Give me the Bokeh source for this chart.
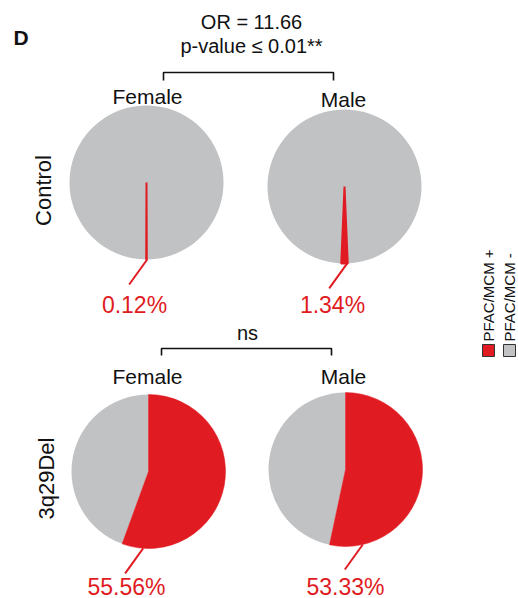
import math
from bokeh.plotting import figure
from bokeh.models import Range1d
from bokeh.core.properties import value
from bokeh.embed import file_html
from bokeh.resources import INLINE

# ---- data ----
groups = ["Control", "Control", "3q29Del", "3q29Del"]
sexes = ["Female", "Male", "Female", "Male"]
pos_pct = [0.12, 1.34, 55.56, 53.33]
pct_labels = ["0.12%", "1.34%", "55.56%", "53.33%"]
row_labels = ["Control", "3q29Del"]
stat_top = ["OR = 11.66", "p-value \u2264 0.01**"]
stat_bottom = ["ns"]
legend_labels = ["PFAC/MCM +", "PFAC/MCM -"]
panel_letter = "D"

# ---- style / layout ----
RED = "#E11B22"
GREY = "#C1C2C3"
INK = "#111111"
FONT = value("Liberation Sans")
W, H = 518, 598


def Y(py):
    return H - py


centers = [(146, 182), (344, 186), (148, 471), (345, 469)]
R = 77
leader_deg = [0.5, 2, -4, 13]
label_pos = [(134, 304), (332, 304), (126, 586), (345, 586)]
sex_pos = [(147, 96), (343, 99), (147, 376), (343, 376)]

p = figure(width=W, height=H, x_range=Range1d(0, W), y_range=Range1d(0, H),
           output_backend="svg", toolbar_location=None, min_border=0)
p.axis.visible = False
p.grid.visible = False
p.outline_line_color = None
p.background_fill_color = "white"
p.border_fill_color = "white"

for i, (g, s, pct) in enumerate(zip(groups, sexes, pos_pct)):
    cx, cy = centers[i]
    f = pct / 100.0
    if g == "Control":
        rs = -math.pi / 2 - f * math.pi
        re = -math.pi / 2 + f * math.pi
    else:
        rs = math.pi / 2 - f * 2 * math.pi
        re = math.pi / 2
    p.wedge(x=[cx], y=[Y(cy)], radius=R, start_angle=[re], end_angle=[rs + 2 * math.pi],
            fill_color=GREY, line_color=None)
    p.wedge(x=[cx], y=[Y(cy)], radius=R, start_angle=[rs], end_angle=[re],
            fill_color=RED, line_color=RED, line_width=2 if g == "Control" else 0.5)
    # leader line
    a = math.radians(leader_deg[i])
    sx = cx + R * math.sin(a)
    sy = cy + R * math.cos(a)
    p.line(x=[sx, sx - 18], y=[Y(sy), Y(sy + 25)], line_color=RED, line_width=2)
    lx, ly = label_pos[i]
    p.text(x=[lx], y=[Y(ly)], text=[pct_labels[i]], text_color=RED, text_font=FONT,
           text_font_size="23px", text_align="center", text_baseline="middle")
    sxp, syp = sex_pos[i]
    p.text(x=[sxp], y=[Y(syp)], text=[s], text_color=INK, text_font=FONT,
           text_font_size="21px", text_align="center", text_baseline="middle")

# row labels
for lab, (x, y) in zip(row_labels, [(43, 190), (46, 478)]):
    p.text(x=[x], y=[Y(y)], text=[lab], angle=math.pi / 2, text_color=INK,
           text_font=FONT, text_font_size="22px", text_align="center", text_baseline="middle")

# stats and brackets
p.text(x=[251], y=[Y(21)], text=[stat_top[0]], text_color=INK, text_font=FONT,
       text_font_size="20px", text_align="center", text_baseline="middle")
p.text(x=[251], y=[Y(45)], text=[stat_top[1]], text_color=INK, text_font=FONT,
       text_font_size="20px", text_align="center", text_baseline="middle")
p.text(x=[247], y=[Y(332)], text=[stat_bottom[0]], text_color=INK, text_font=FONT,
       text_font_size="20px", text_align="center", text_baseline="middle")
for (x0, x1, yb, yt) in [(163, 333, 72, 80), (161, 331, 348, 355)]:
    p.line(x=[x0, x0, x1, x1], y=[Y(yt), Y(yb), Y(yb), Y(yt)], line_color=INK, line_width=1.6)

p.text(x=[13], y=[Y(37)], text=[panel_letter], text_color=INK, text_font=FONT,
       text_font_size="21px", text_font_style="bold", text_align="left", text_baseline="middle")

# legend
for lab, col, x in zip(legend_labels, [RED, GREY], [488, 509]):
    p.rect(x=[x], y=[Y(350)], width=12, height=12, fill_color=col, line_color="#333333", line_width=1)
    p.text(x=[x], y=[Y(341)], text=[lab], angle=math.pi / 2, text_color=INK, text_font=FONT,
           text_font_size="15px", text_align="left", text_baseline="middle")

open("out.html", "w").write(file_html(p, INLINE))
